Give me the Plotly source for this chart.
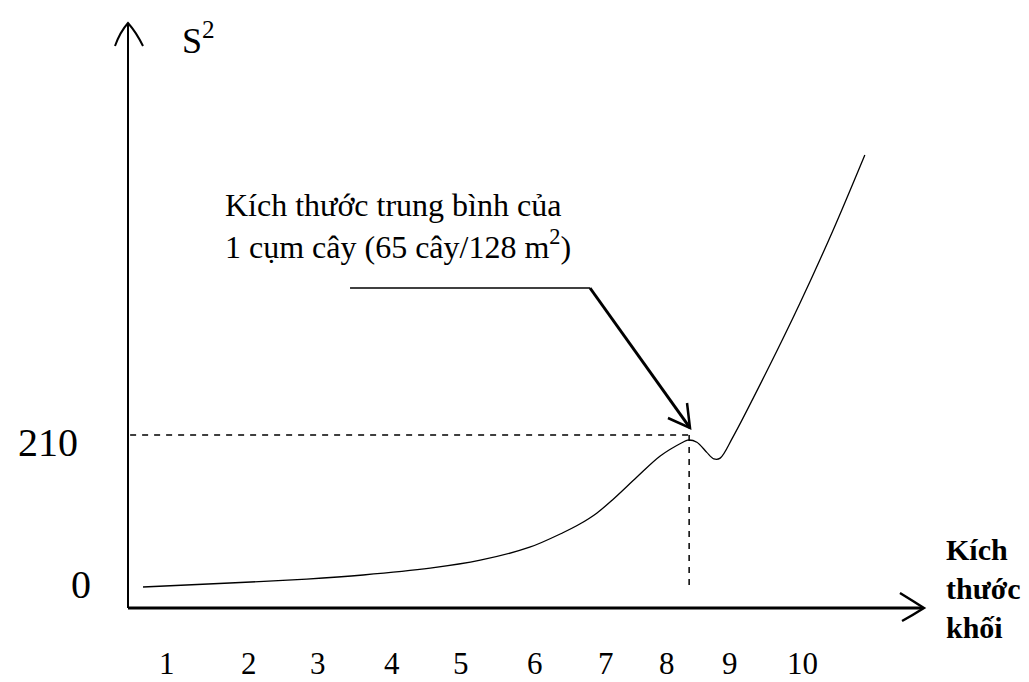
import plotly.graph_objects as go

# ---- data ----
curve_x = [0.66, 1.89, 2.98, 3.78, 4.73, 5.44, 6.14, 6.61, 6.85, 7.09, 7.32, 7.66, 7.99,
           8.31, 8.38, 8.51, 8.65, 8.75, 8.84, 9.02, 9.50, 9.97, 10.44, 10.89]
curve_y = [0, 5.5, 11, 16.6, 26, 37, 55, 75, 87, 102, 121, 152, 181,
           200, 203, 200, 186, 177, 178, 207, 298, 392, 493, 597]

x_tick_pos = [1, 2.162, 3.140, 4.189, 5.167, 6.215, 7.222, 8.086, 8.979, 10]
x_tick_text = ["1", "2", "3", "4", "5", "6", "7", "8", "9", "10"]
y_tick_vals = [0, 210]
y_tick_text = ["0", "210"]

ref_x = 8.40      # block size at the marked point
ref_y = 210       # S^2 at the marked point

note_text = "Kích thước trung bình của<br>1 cụm cây (65 cây/128 m<sup>2</sup>)"
x_title = "Kích<br>thước<br>khối"
y_title = "S<sup>2</sup>"

# ---- layout geometry (data units) ----
X_RANGE = [-1.3668, 13.2166]
Y_RANGE = [-131.25, 811.0]
AX_X0 = 0.4473      # position of the vertical axis
AX_Y0 = -29.0       # position of the horizontal axis
X_END = 11.70
Y_END = 777.8

SERIF = "Liberation Serif, Times New Roman, serif"

fig = go.Figure()
fig.add_trace(go.Scatter(
    x=curve_x, y=curve_y, mode="lines",
    line=dict(color="black", width=1.3, shape="spline", smoothing=0.9),
    hoverinfo="skip", showlegend=False,
))

shapes = []
# axes
shapes.append(dict(type="line", x0=AX_X0, y0=AX_Y0, x1=AX_X0, y1=Y_END,
                   line=dict(color="black", width=2)))
shapes.append(dict(type="line", x0=AX_X0, y0=AX_Y0, x1=X_END, y1=AX_Y0,
                   line=dict(color="black", width=3)))
# arrow heads (open, hand-drawn style)
shapes.append(dict(type="path",
                   path="M 0.263,747.4 Q 0.334,766.8 0.4473,779.2 Q 0.561,766.8 0.660,747.4",
                   line=dict(color="black", width=2)))
shapes.append(dict(type="path",
                   path="M 11.388,-8.3 Q 11.572,-19.3 11.728,-29.0 Q 11.572,-38.7 11.417,-47.0",
                   line=dict(color="black", width=2.5)))
# dashed reference lines
shapes.append(dict(type="line", x0=AX_X0 + 0.03, y0=ref_y, x1=ref_x, y1=ref_y,
                   line=dict(color="black", width=1.5, dash="6px,6px")))
shapes.append(dict(type="line", x0=ref_x, y0=ref_y, x1=ref_x, y1=-4,
                   line=dict(color="black", width=1.5, dash="6px,6px")))
# pointer from the note to the marked point
shapes.append(dict(type="line", x0=3.594, y0=413.1, x1=6.995, y1=413.1,
                   line=dict(color="black", width=1.6)))
shapes.append(dict(type="line", x0=6.995, y0=413.1, x1=8.412, y1=219.7,
                   line=dict(color="black", width=3)))
shapes.append(dict(type="path",
                   path="M 8.100,233.5 L 8.412,219.7 L 8.370,254.2",
                   line=dict(color="black", width=2.5)))

annotations = []
for xv, t in zip(x_tick_pos, x_tick_text):
    annotations.append(dict(x=xv, y=-105.0, text=t, showarrow=False,
                            xanchor="center", yanchor="middle",
                            font=dict(family=SERIF, size=31, color="black")))
y_label_x = [-0.05, -0.233]
y_label_shift = [3, -7]
for yv, t, lx, ys in zip(y_tick_vals, y_tick_text, y_label_x, y_label_shift):
    annotations.append(dict(x=lx, y=yv, text=t, showarrow=False, yshift=ys,
                            xanchor="right", yanchor="middle",
                            font=dict(family=SERIF, size=40, color="black")))
annotations.append(dict(x=1.184, y=758.5, text=y_title, showarrow=False,
                        xanchor="left", yanchor="middle",
                        font=dict(family=SERIF, size=36, color="black")))
annotations.append(dict(x=12.012, y=-1.4, text="<b>" + x_title + "</b>", showarrow=False,
                        xanchor="left", yanchor="middle", align="left",
                        font=dict(family=SERIF, size=30, color="black")))
annotations.append(dict(x=1.794, y=499.0, text=note_text, showarrow=False,
                        xanchor="left", yanchor="middle", align="left",
                        font=dict(family=SERIF, size=32, color="black")))

fig.update_layout(
    width=1029, height=682,
    margin=dict(l=0, r=0, t=0, b=0),
    paper_bgcolor="white", plot_bgcolor="white",
    xaxis=dict(range=X_RANGE, visible=False, fixedrange=True),
    yaxis=dict(range=Y_RANGE, visible=False, fixedrange=True),
    shapes=shapes, annotations=annotations,
    showlegend=False,
)

fig.write_html("out.html", config={"displayModeBar": False},
               post_script="document.body.style.margin='0px';document.body.style.overflow='hidden';")
